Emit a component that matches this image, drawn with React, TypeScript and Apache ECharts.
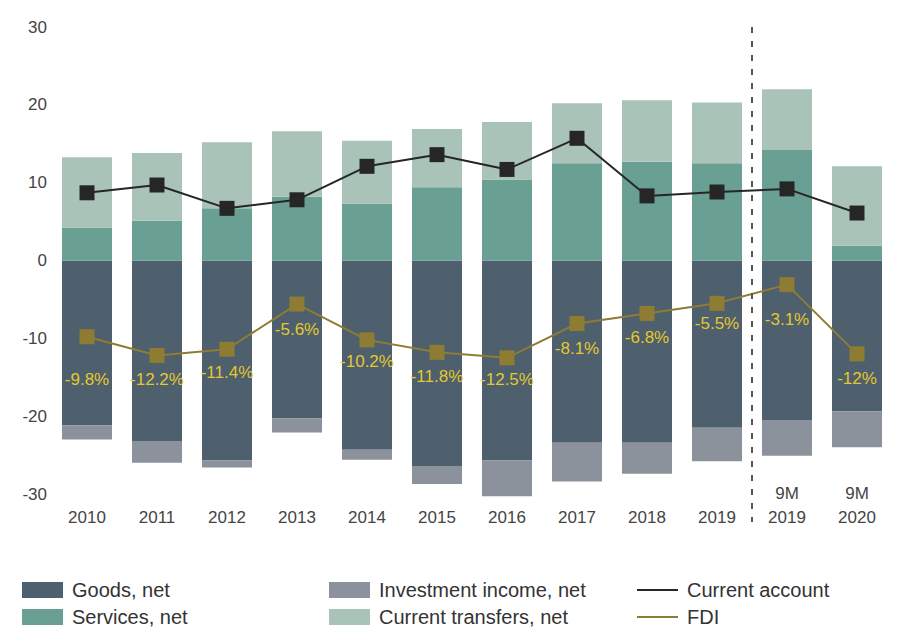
import React, { useEffect, useRef } from 'react';
import * as echarts from 'echarts';

const categories = ['2010', '2011', '2012', '2013', '2014', '2015', '2016', '2017', '2018', '2019', '9M\n2019', '9M\n2020'];
const goods = [-21.2, -23.2, -25.7, -20.3, -24.3, -26.4, -25.7, -23.4, -23.4, -21.5, -20.5, -19.4];
const investment = [-1.8, -2.8, -0.9, -1.8, -1.3, -2.3, -4.6, -5.0, -4.0, -4.3, -4.6, -4.6];
const services = [4.25, 5.1, 6.7, 8.2, 7.3, 9.4, 10.4, 12.5, 12.7, 12.5, 14.2, 1.9];
const transfers = [9.0, 8.7, 8.5, 8.4, 8.1, 7.5, 7.4, 7.7, 7.9, 7.8, 7.8, 10.2];
const currentAccount = [8.7, 9.7, 6.7, 7.8, 12.1, 13.6, 11.7, 15.7, 8.3, 8.8, 9.2, 6.1];
const fdi = [-9.8, -12.2, -11.4, -5.6, -10.2, -11.8, -12.5, -8.1, -6.8, -5.5, -3.1, -12];
const fdiLabels = ['-9.8%', '-12.2%', '-11.4%', '-5.6%', '-10.2%', '-11.8%', '-12.5%', '-8.1%', '-6.8%', '-5.5%', '-3.1%', '-12%'];
const yTicks = { min: -30, max: 30, interval: 10 };

// label placement tweaks (style, not data)
const fdiLabelDistance = [27, 8, 7, 9, 6, 8, 6, 9, 8, 4, 19, 9];

const FONT = '"Liberation Sans", Arial, Helvetica, sans-serif';
const C = {
  goods: '#4e5f6e',
  invest: '#8b929b',
  services: '#6a9f93',
  transfers: '#a9c3b9',
  ca: '#262626',
  fdi: '#8e7c33',
  fdiLabel: '#e4c82c',
  text: '#444444',
};

export default function App() {
  const ref = useRef<HTMLDivElement>(null);
  useEffect(() => {
    if (!ref.current) return;
    const chart = echarts.init(ref.current, undefined, { renderer: 'svg' });
    const barCommon = {
      type: 'bar',
      stack: 'total',
      barWidth: 50,
      clip: false,
    };
    const legendCommon = {
      top: 580,
      height: 48,
      orient: 'vertical',
      selectedMode: false,
      padding: 0,
      itemWidth: 41,
      itemGap: 7,
      icon: 'rect',
      textStyle: { fontSize: 20, color: '#333', fontFamily: FONT, lineHeight: 20, padding: [0, 0, 0, 4] },
    };
    chart.setOption({
      animation: false,
      textStyle: { fontFamily: FONT },
      grid: { left: 52, right: 22, top: 27, bottom: 134, containLabel: false },
      xAxis: {
        type: 'category',
        data: categories,
        axisLine: { show: false },
        axisTick: { show: false },
        axisLabel: {
          interval: 0,
          color: C.text,
          fontSize: 17,
          fontFamily: FONT,
          lineHeight: 24,
          verticalAlign: 'bottom',
          margin: 35,
        },
      },
      yAxis: {
        type: 'value',
        min: yTicks.min,
        max: yTicks.max,
        interval: yTicks.interval,
        axisLine: { show: false },
        axisTick: { show: false },
        splitLine: { show: false },
        axisLabel: { color: C.text, fontSize: 17, fontFamily: FONT, margin: 5 },
      },
      legend: [
        { ...legendCommon, left: 22, itemHeight: 16, data: ['Goods, net', 'Services, net'] },
        { ...legendCommon, left: 329, itemHeight: 16, data: ['Investment income, net', 'Current transfers, net'] },
        { ...legendCommon, left: 637, itemHeight: 2, data: ['Current account', 'FDI'] },
      ],
      series: [
        { ...barCommon, name: 'Goods, net', data: goods, itemStyle: { color: C.goods } },
        { ...barCommon, name: 'Investment income, net', data: investment, itemStyle: { color: C.invest } },
        { ...barCommon, name: 'Services, net', data: services, itemStyle: { color: C.services } },
        { ...barCommon, name: 'Current transfers, net', data: transfers, itemStyle: { color: C.transfers } },
        {
          type: 'line', name: 'Current account', data: currentAccount,
          symbol: 'rect', symbolSize: 15,
          lineStyle: { color: C.ca, width: 2 },
          itemStyle: { color: C.ca },
          z: 5,
        },
        {
          type: 'line', name: 'FDI',
          data: fdi.map((v, i) => ({
            value: v,
            label: { distance: fdiLabelDistance[i] },
          })),
          symbol: 'rect', symbolSize: 15,
          lineStyle: { color: C.fdi, width: 2 },
          itemStyle: { color: C.fdi },
          label: {
            show: true,
            position: 'bottom',
            color: C.fdiLabel,
            fontSize: 17,
            fontFamily: FONT,
            formatter: (p: any) => fdiLabels[p.dataIndex],
          },
          z: 6,
        },
      ],
    });

    const xa = chart.convertToPixel({ xAxisIndex: 0 }, 9) as number;
    const xb = chart.convertToPixel({ xAxisIndex: 0 }, 10) as number;
    const xm = (xa + xb) / 2;
    chart.setOption({
      graphic: [
        {
          type: 'line',
          shape: { x1: xm, y1: 27, x2: xm, y2: 522 },
          style: { stroke: '#555', lineWidth: 2, lineDash: [6, 8] },
          z: 10,
        },
      ],
    });

    return () => chart.dispose();
  }, []);
  return <div ref={ref} style={{ position: 'fixed', left: 0, top: 0, width: 914, height: 628, background: '#fff' }} />;
}
